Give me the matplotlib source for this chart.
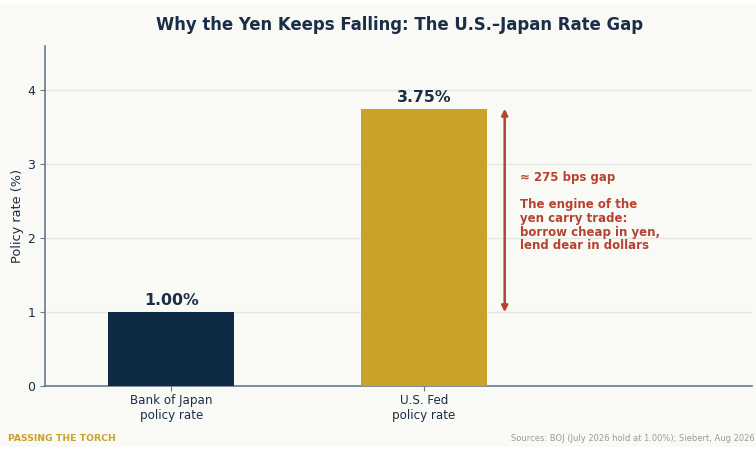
import matplotlib.pyplot as plt
from matplotlib.patches import Rectangle

labels = ['Bank of Japan\npolicy rate', 'U.S. Fed\npolicy rate']
rates = [1.00, 3.75]
bar_colors = ['#0f2a44', '#c9a22a']
gap_low, gap_high = 1.00, 3.75

navy = '#1a2e48'
red = '#b5432f'
bg = '#f9f9f5'

fig = plt.figure(figsize=(7.56, 4.5), dpi=100, facecolor=bg)
# white strips top/bottom like the reference export
fig.patches.append(Rectangle((0, 0.993), 1, 0.01, transform=fig.transFigure, color='white', zorder=0))
fig.patches.append(Rectangle((0, 0), 1, 0.007, transform=fig.transFigure, color='white', zorder=0))

ax = fig.add_axes([0.0595, 0.142, 0.9355, 0.756])
ax.set_facecolor(bg)

x = range(len(rates))
ax.bar(x, rates, width=0.5, color=bar_colors, zorder=3)
for i, v in enumerate(rates):
    ax.text(i, v + 0.05, f'{v:.2f}%', ha='center', va='bottom',
            fontsize=11.3, fontweight='bold', color=navy)

ax.set_xlim(-0.5, 2.3)
ax.set_ylim(0, 4.6)
ax.set_xticks(list(x))
ax.set_xticklabels(labels, fontsize=8.6, color=navy)
ax.set_yticks([0, 1, 2, 3, 4])
ax.tick_params(axis='y', labelsize=9, colors=navy)
ax.tick_params(axis='x', pad=2)
ax.tick_params(axis='both', color='#6b7a8f')
ax.set_ylabel('Policy rate (%)', fontsize=9.3, color=navy, labelpad=2)
ax.grid(axis='y', color='#e6e6e2', linewidth=1, zorder=0)
ax.set_axisbelow(True)
for s in ['top', 'right']:
    ax.spines[s].set_visible(False)
for s in ['left', 'bottom']:
    ax.spines[s].set_color('#6b7a8f')
    ax.spines[s].set_linewidth(1.2)

ax.annotate('', xy=(1.32, gap_high), xytext=(1.32, gap_low),
            arrowprops=dict(arrowstyle='<|-|>', color=red, lw=1.8,
                            mutation_scale=9, shrinkA=0, shrinkB=0))
ax.text(1.38, 2.91, '≈ 275 bps gap\n\nThe engine of the\nyen carry trade:\nborrow cheap in yen,\nlend dear in dollars',
        ha='left', va='top', fontsize=8.5, fontweight='bold', color=red, linespacing=1.07)

fig.text(0.528, 0.945, 'Why the Yen Keeps Falling: The U.S.–Japan Rate Gap',
         ha='center', va='center', fontsize=11.9, fontweight='bold', color=navy)
fig.text(0.011, 0.025, 'PASSING THE TORCH', ha='left', va='center',
         fontsize=6.7, fontweight='bold', color='#c9a22a')
fig.text(0.998, 0.025, 'Sources: BOJ (July 2026 hold at 1.00%); Siebert, Aug 2026',
         ha='right', va='center', fontsize=6, color='#9a9a9a')

fig.savefig('out.png', dpi=100, facecolor=fig.get_facecolor())
